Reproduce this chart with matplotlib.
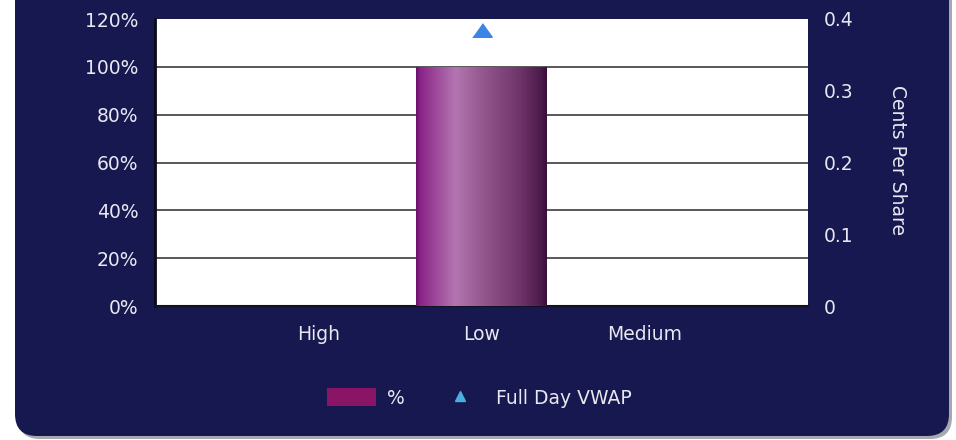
import matplotlib
matplotlib.use("Agg")
import matplotlib.pyplot as plt
import numpy as np
from matplotlib.patches import FancyBboxPatch, Rectangle
from matplotlib.lines import Line2D
from matplotlib.colors import LinearSegmentedColormap
from matplotlib.transforms import IdentityTransform

# ---- data ----
categories = ["High", "Low", "Medium"]
pct_values = [0, 100, 0]
vwap_values = [np.nan, 0.385, np.nan]
left_ticks = [0, 20, 40, 60, 80, 100, 120]
left_labels = ["0%", "20%", "40%", "60%", "80%", "100%", "120%"]
right_ticks = [0, 0.1, 0.2, 0.3, 0.4]
right_labels = ["0", "0.1", "0.2", "0.3", "0.4"]
right_axis_title = "Cents Per Share"
legend_labels = ["%", "Full Day VWAP"]

W, H = 956, 440
NAVY = "#17184f"
TXT = "#e8e8f2"
FS = 13.5
plt.rcParams['font.family'] = ['DejaVu Sans']

fig = plt.figure(figsize=(W / 100, H / 100), dpi=100)
fig.patch.set_facecolor("white")

# panel shadow + panel
shadow = FancyBboxPatch((18, 1), 934, 520, boxstyle="round,pad=0,rounding_size=22",
                        transform=IdentityTransform(), facecolor="#a8a8b0",
                        edgecolor="none", zorder=0)
fig.add_artist(shadow)
panel = FancyBboxPatch((15, 4), 934, 520, boxstyle="round,pad=0,rounding_size=22",
                       transform=IdentityTransform(), facecolor=NAVY,
                       edgecolor="none", zorder=0)
fig.add_artist(panel)

ax = fig.add_axes([155 / W, (H - 306) / H, 653 / W, 287 / H])
ax.set_facecolor("white")
x = np.arange(len(categories))

bars = ax.bar(x, pct_values, width=0.8, color="#7a2a74", zorder=3)

cmap = LinearSegmentedColormap.from_list("barg", [
    (0.0, "#6a1068"), (0.03, "#8a2488"), (0.30, "#b476b0"),
    (0.50, "#96588f"), (0.80, "#6e3468"), (0.95, "#4e1c4c"), (1.0, "#3a0e38")])
grad = np.linspace(0, 1, 256).reshape(1, -1)
for b in bars:
    if b.get_height() > 0:
        im = ax.imshow(grad, cmap=cmap, aspect="auto", zorder=4,
                       extent=[b.get_x(), b.get_x() + b.get_width(), 0, b.get_height()])
        im.set_clip_path(b)
ax.set_xlim(-1, len(categories))
ax.set_ylim(0, 120)

ax.set_yticks(left_ticks)
ax.set_yticklabels(left_labels)
ax.set_xticks(x)
ax.set_xticklabels(categories)
for t in left_ticks[1:-1]:
    ax.axhline(t, color="#4a4a4a", lw=1.3, zorder=2)
ax.tick_params(axis="y", length=0, pad=12, colors=TXT, labelsize=FS)
ax.tick_params(axis="x", length=0, pad=14, colors=TXT, labelsize=FS)
for s in ["top", "right"]:
    ax.spines[s].set_visible(False)
ax.spines["left"].set_color("#0a0a18")
ax.spines["left"].set_linewidth(2)
ax.spines["bottom"].set_color("#111122")
ax.spines["bottom"].set_linewidth(1.5)

ax2 = ax.twinx()
ax2.set_ylim(0, 0.4)
tri = [(-1, -0.7), (1, -0.7), (0, 0.7)]
ax2.plot(x, vwap_values, linestyle="none", marker=tri, ms=14,
         color="#3a85e6", zorder=5)
ax2.set_yticks(right_ticks)
ax2.set_yticklabels(right_labels)
ax2.tick_params(axis="y", length=0, pad=11, colors=TXT, labelsize=FS)
for s in ax2.spines.values():
    s.set_visible(False)

fig.text(897 / W, 1 - 160 / H, right_axis_title, rotation=270, ha="center",
         va="center", color=TXT, fontsize=FS)

handles = [Rectangle((0, 0), 1, 1, facecolor="#8a1466", edgecolor="none"),
           Line2D([], [], linestyle="none", marker="^", ms=7, color="#4aaee0")]
fs_px = FS * 100 / 72
leg = fig.legend(handles, legend_labels, loc="center", ncol=2, frameon=False,
                 bbox_to_anchor=(479 / W, 1 - 398 / H), fontsize=FS,
                 handlelength=49 / fs_px, handleheight=20 / fs_px,
                 handletextpad=11 / fs_px, columnspacing=31 / fs_px)
for t in leg.get_texts():
    t.set_color(TXT)

fig.savefig("out.png", dpi=100, facecolor=fig.get_facecolor())
